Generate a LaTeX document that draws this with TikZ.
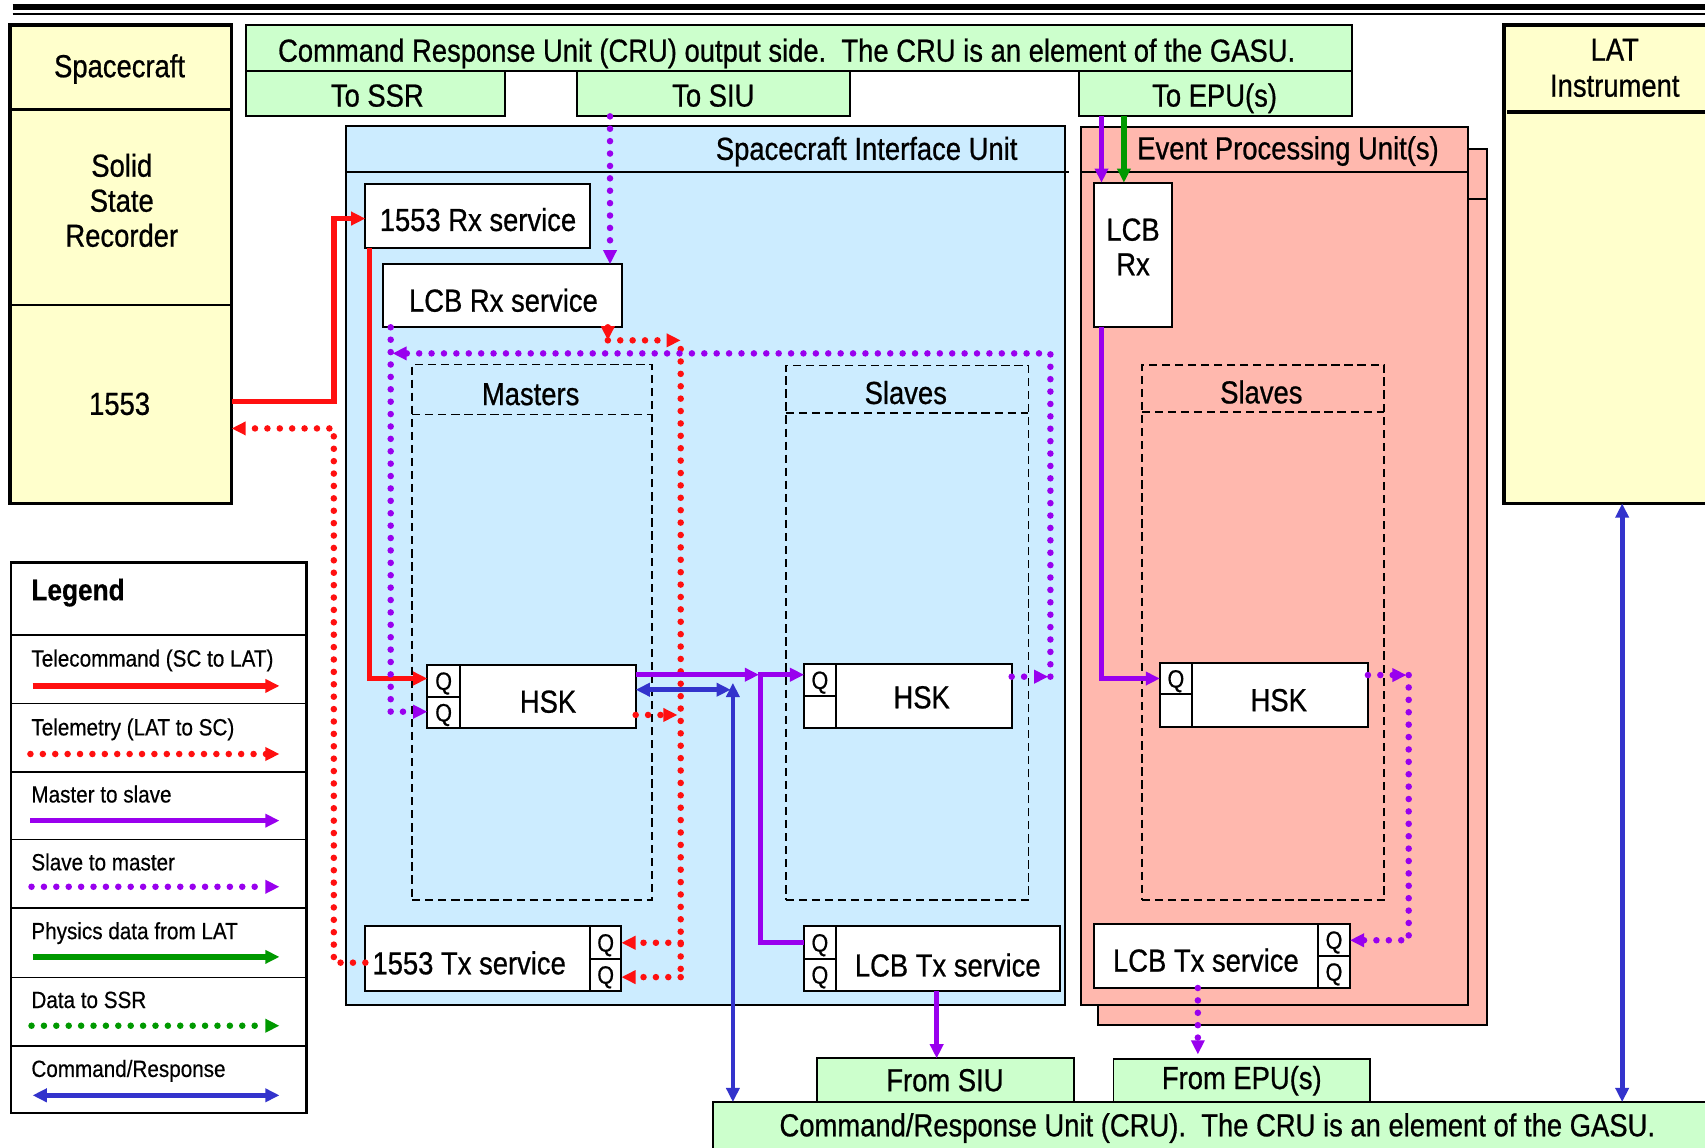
\documentclass[tikz,border=0pt]{standalone}
\usepackage{fontspec}
\setmainfont[FakeStretch=0.86,FakeBold=0.7]{Liberation Sans}
\newfontfamily\lgfont[FakeStretch=0.88,FakeBold=0.5]{Liberation Sans}
\usetikzlibrary{arrows.meta,fit}
\definecolor{yel}{HTML}{FFFFCC}
\definecolor{grn}{HTML}{CCFFCC}
\definecolor{siublue}{HTML}{CCECFF}
\definecolor{epupink}{HTML}{FFB8AE}
\definecolor{tcred}{HTML}{FF1010}
\definecolor{purp}{HTML}{9900EE}
\definecolor{grnline}{HTML}{009900}
\definecolor{crblue}{HTML}{3333CC}
\newcommand\fmain{\fontsize{14.65pt}{16pt}\selectfont}
\newcommand\fq{\fontsize{11.5pt}{12pt}\selectfont}
\newcommand\flg{\lgfont\fontsize{10.8pt}{12pt}\selectfont}
\newcommand\flgh{\lgfont\bfseries\fontsize{13.7pt}{15pt}\selectfont}
\newcommand\bx[3]{\node[#1,fit={#3},inner sep=0pt,outer sep=0pt] (#2) {};}
\tikzset{
  wbox/.style={draw=black, line width=0.9pt, fill=white},
  ybox/.style={draw=black, line width=1.6pt, fill=yel},
  gbox/.style={draw=black, line width=0.9pt, fill=grn},
  dbox/.style={draw=black, line width=0.7pt, dash pattern=on 3.8pt off 2.2pt},
  ghost/.style={},
  lbl/.style={anchor=base, inner sep=0pt, font=\fmain},
  qlbl/.style={anchor=base, inner sep=0pt, font=\fq},
  lglbl/.style={anchor=base west, inner sep=0pt, font=\flg},
  arr/.style={-{Triangle[length=6.5pt,width=6pt]}},
  arrboth/.style={{Triangle[length=6.5pt,width=6pt]}-{Triangle[length=6.5pt,width=6pt]}},
  solidline/.style={line width=2.5pt},
  dotline/.style={line width=3pt, dash pattern=on 0pt off 5.7pt, line cap=round},
  tc/.style={solidline, draw=tcred},
  tm/.style={dotline, draw=tcred},
  ms/.style={solidline, draw=purp},
  smd/.style={dotline, draw=purp},
  phys/.style={solidline, draw=grnline},
  ssr/.style={dotline, draw=grnline},
  cr/.style={line width=2.2pt, draw=crblue},
}
\begin{document}
\begin{tikzpicture}[x=0.5pt,y=-0.5pt]
\useasboundingbox (0,0) rectangle (1568,1055);
\clip (0,0) rectangle (1568,1055);
\fill[white] (0,0) rectangle (1568,1055);

% top rules
\draw[line width=2.75pt] (11.6,6.5) -- (1600,6.5);
\draw[line width=1.2pt] (11.6,13) -- (1600,13);

% Spacecraft
\bx{ybox}{sc}{(9,23)(213,463)}
\draw[line width=1.6pt] (sc.west |- 0,100.5) -- (sc.east |- 0,100.5);
\draw[line width=0.9pt] (sc.west |- 0,280.5) -- (sc.east |- 0,280.5);
\bx{ghost}{sc1553}{(9,280.5)(213,463)}
\node[lbl] (tsc) at (110,71) {Spacecraft};
\node[lbl] (ts1) at (112,162.5) {Solid};
\node[lbl] (ts2) at (112,194.7) {State};
\node[lbl] (ts3) at (112,226.9) {Recorder};
\node[lbl] (t1553) at (110,381.5) {1553};

% LAT
\bx{ybox}{lat}{(1383,23)(1620,463)}
\draw[line width=1.6pt] (1386,103) -- (1620,103);
\node[lbl] (tlat1) at (1485,55.8) {LAT};
\node[lbl] (tlat2) at (1485,88.9) {Instrument};

% CRU top
\bx{gbox}{crut}{(226,23)(1243,65)}
\bx{gbox}{tossr}{(226,65)(464,107)}
\bx{gbox}{tosiu}{(531,65)(782,107)}
\bx{gbox}{toepu}{(992.5,65)(1243,107)}
\node[lbl] (tcrut) at (723.5,56.7) {Command Response Unit (CRU) output side.\ \ The CRU is an element of the GASU.};
\node[lbl] (ttossr) at (347,98) {To SSR};
\node[lbl] (ttosiu) at (656,98) {To SIU};
\node[lbl] (ttoepu) at (1117,98) {To EPU(s)};

% CRU bottom
\bx{gbox}{fromsiu}{(751,973.3)(988,1013.5)}
\bx{gbox}{fromepu}{(1024,973.7)(1260,1013.5)}
\bx{gbox}{crub}{(656,1013.5)(1620,1080)}
\node[lbl] (tfromsiu) at (869,1003.5) {From SIU};
\node[lbl] (tfromepu) at (1142,1001.5) {From EPU(s)};
\node[lbl] (tcrub) at (1119.5,1045) {Command/Response Unit (CRU).\ \ The CRU is an element of the GASU.};

% SIU container
\bx{draw=black,line width=0.9pt,fill=siublue}{siu}{(318,116)(979,924)}
\draw[line width=0.9pt] (siu.west |- 0,158) -- (983,158);
\node[lbl] (tsiu) at (797,147) {Spacecraft Interface Unit};

% EPU containers
\bx{draw=black,line width=0.9pt,fill=epupink}{epuback}{(1010,137)(1367.6,942.6)}
\draw[line width=0.9pt] (1350,183) -- (epuback.east |- 0,183);
\bx{draw=black,line width=0.9pt,fill=epupink}{epu}{(994.5,117)(1349.7,924)}
\draw[line width=0.9pt] (epu.west |- 0,158) -- (epu.east |- 0,158);
\node[lbl] (tepu) at (1184.5,146.5) {Event Processing Unit(s)};

% dashed groups
\bx{dbox}{mast}{(379,335)(599.6,827.7)}
\draw[dbox] (mast.west |- 0,381) -- (mast.east |- 0,381);
\node[lbl] (tmast) at (488,372.5) {Masters};
\bx{dbox}{slv}{(722.6,336)(945.7,827.7)}
\draw[dbox] (slv.west |- 0,380) -- (slv.east |- 0,380);
\node[lbl] (tslv) at (833,371.5) {Slaves};
\bx{dbox}{slvE}{(1050,335.7)(1273,827.7)}
\draw[dbox] (slvE.west |- 0,379) -- (slvE.east |- 0,379);
\node[lbl] (tslvE) at (1160,371) {Slaves};

% service boxes
\bx{wbox}{rx1553}{(336,169)(543,228)}
\node[lbl] (trx1553) at (439.6,212.4) {1553 Rx service};
\bx{wbox}{lcbrx}{(352.5,243)(572,301)}
\node[lbl] (tlcbrx) at (463,286.6) {LCB Rx service};
\bx{wbox}{lcbrxE}{(1006,168)(1078,300.4)}
\node[lbl] (tlcbE1) at (1042,221.3) {LCB};
\node[lbl] (tlcbE2) at (1042,253.2) {Rx};

\bx{wbox}{hskm}{(393,611.6)(584.6,669.6)}
\bx{wbox}{qm1}{(393,611.6)(423,641)}
\bx{wbox}{qm2}{(393,641)(423,669.6)}
\node[lbl] (thskm) at (504,655.4) {HSK};
\node[qlbl] (tqm1) at (408,634.4) {Q};
\node[qlbl] (tqm2) at (408,663.4) {Q};

\bx{wbox}{hsks}{(739.5,611)(930.4,669.4)}
\bx{wbox}{qs1}{(739.5,611)(768.6,640)}
\bx{wbox}{qs2}{(739.5,640)(768.6,669.4)}
\node[lbl] (thsks) at (847.6,651.4) {HSK};
\node[qlbl] (tqs1) at (754,633.6) {Q};

\bx{wbox}{hske}{(1066.7,609.8)(1258,668.3)}
\bx{wbox}{qe1}{(1066.7,609.8)(1096,638.5)}
\bx{wbox}{qe2}{(1066.7,638.5)(1096,668.3)}
\node[lbl] (thske) at (1176,654) {HSK};
\node[qlbl] (tqe1) at (1081.4,632.3) {Q};

\bx{wbox}{tx1553}{(336,852)(571.5,911)}
\bx{wbox}{qt1}{(542.4,852)(571.5,882)}
\bx{wbox}{qt2}{(542.4,882)(571.5,911)}
\node[lbl] (ttx1553) at (431.5,896) {1553 Tx service};
\node[qlbl] (tqt1) at (557,875.1) {Q};
\node[qlbl] (tqt2) at (557,904.6) {Q};

\bx{wbox}{lcbtx}{(739.5,852)(975,911)}
\bx{wbox}{ql1}{(739.5,852)(768.6,882)}
\bx{wbox}{ql2}{(739.5,882)(768.6,911)}
\node[lbl] (tlcbtx) at (871.6,898) {LCB Tx service};
\node[qlbl] (tql1) at (754,875.1) {Q};
\node[qlbl] (tql2) at (754,904.6) {Q};

\bx{wbox}{lcbtxE}{(1006,850)(1241.5,908.6)}
\bx{wbox}{qx1}{(1212,850)(1241.5,879)}
\bx{wbox}{qx2}{(1212,879)(1241.5,908.6)}
\node[lbl] (tlcbtxE) at (1109,893.5) {LCB Tx service};
\node[qlbl] (tqx1) at (1226.8,872.6) {Q};
\node[qlbl] (tqx2) at (1226.8,901.9) {Q};

% bus coordinates
\coordinate (rbA) at (307,369);
\coordinate (rbB) at (307,201);
\coordinate (rbC) at (340,624);
\coordinate (rdA) at (307,885.3);
\coordinate (rdB) at (307,394);
\coordinate (rdC) at (559,313);
\coordinate (rdD) at (626,313);
\coordinate (rdTop) at (626,321);
\coordinate (rdBot) at (626,898.6);
\coordinate (rdMid) at (626,867);
\coordinate (rdH) at (623,657.5);
\coordinate (pdL) at (359.3,654.5);
\coordinate (pdR) at (966,622.3);
\coordinate (pdRt) at (966,325);
\coordinate (pdLt) at (361,325);
\coordinate (pdE) at (1295.5,620.8);
\coordinate (pdEb) at (1295.5,864.7);
\coordinate (psA) at (698,620.5);
\coordinate (psB) at (699.6,620.5);
\coordinate (psC) at (699.6,867);
\coordinate (psE) at (1013,624);
\coordinate (cbH) at (672,634.3);
\coordinate (cbV) at (674,628);

% telecommand (red solid)
\draw[tc,arr] (sc1553.east |- rbA) -- (rbA) -- (rbB) -- (rx1553.west |- rbB);
\draw[tc,arr] (rx1553.south -| rbC) -- (rbC) -- (qm1.west |- rbC);
% telemetry (red dotted)
\draw[tm,arr] (tx1553.west |- rdA) -- (rdA) -- (rdB) -- (sc1553.east |- rdB);
\draw[tm,arr] (lcbrx.south -| rdC) -- (rdC);
\draw[tm,arr] (rdC) -- (rdD);
\draw[tm] (rdTop) -- (rdBot);
\draw[tm,arr] (rdBot) -- (qt2.east |- rdBot);
\draw[tm,arr] (rdMid) -- (qt1.east |- rdMid);
\draw[tm,arr] (hskm.east |- rdH) -- (rdH);
% slave to master (purple dotted)
\draw[smd,arr] (tosiu.south -| 561,0) -- (lcbrx.north -| 561,0);
\draw[smd,arr] (lcbrx.south -| pdL) -- (pdL) -- (qm2.west |- pdL);
\draw[smd,arr] (hsks.east |- pdR) -- ([xshift=-1pt]pdR);
\draw[smd,arr] (pdR) -- (pdRt) -- (pdLt);
\draw[smd,arr] (hske.east |- pdE) -- ([xshift=-1pt]pdE);
\draw[smd,arr] (pdE) -- (pdEb) -- (qx1.east |- pdEb);
\draw[smd,arr,shorten >=2pt] (lcbtxE.south -| 1101.6,0) -- (fromepu.north -| 1101.6,0);
% master to slave (purple solid)
\draw[ms,arr] (hskm.east |- psA) -- (psA);
\draw[ms,arr] (psB) -- (qs1.west |- psB);
\draw[ms] ([yshift=1.2pt]psB) -- (psC) -- (ql1.west |- psC);
\draw[ms,arr] (lcbtx.south -| 861.4,0) -- (fromsiu.north -| 861.4,0);
\draw[ms,arr] (toepu.south -| 1013,0) -- (lcbrxE.north -| 1013,0);
\draw[phys,arr] (toepu.south -| 1033.6,0) -- (lcbrxE.north -| 1033.6,0);
\draw[ms,arr] (lcbrxE.south -| psE) -- (psE) -- (qe1.west |- psE);
% command/response (blue)
\draw[cr,arrboth] (hskm.east |- cbH) -- (cbH);
\draw[cr,arrboth] (cbV) -- (crub.north -| cbV);
\draw[cr,arrboth] (lat.south -| 1491.8,0) -- (crub.north -| 1491.8,0);

% Legend
\bx{draw=black,line width=1.2pt,fill=white}{leg}{(10,517.4)(282,1023.7)}
\foreach \yy in {584,647,710,772,834.8,899,961.6}
  \draw[line width=0.8pt] (leg.west |- 0,\yy) -- (leg.east |- 0,\yy);
\node[anchor=base west, inner sep=0pt, font=\flgh] (tleg) at (28.5,552) {Legend};
\node[lglbl] (tl1) at (28.5,613) {Telecommand (SC to LAT)};
\node[lglbl] (tl2) at (28.5,676.3) {Telemetry (LAT to SC)};
\node[lglbl] (tl3) at (28.5,738) {Master to slave};
\node[lglbl] (tl4) at (28.5,800.4) {Slave to master};
\node[lglbl] (tl5) at (28.5,863.7) {Physics data from LAT};
\node[lglbl] (tl6) at (28.5,927) {Data to SSR};
\node[lglbl] (tl7) at (28.5,990.4) {Command/Response};
\coordinate (la1) at (30,630.8);   \coordinate (lb1) at (257,630.8);
\coordinate (la2) at (28,693.4);   \coordinate (lb2) at (257,693.4);
\coordinate (la3) at (28,754.7);   \coordinate (lb3) at (257,754.7);
\coordinate (la4) at (29,815.5);   \coordinate (lb4) at (257,815.5);
\coordinate (la5) at (30,880);     \coordinate (lb5) at (257,880);
\coordinate (la6) at (29,943.3);   \coordinate (lb6) at (257,943.3);
\coordinate (la7) at (30,1007.3);  \coordinate (lb7) at (257,1007.3);
\draw[tc,arr] (la1) -- (lb1);
\draw[tm,arr] (la2) -- (lb2);
\draw[ms,arr] (la3) -- (lb3);
\draw[smd,arr] (la4) -- (lb4);
\draw[phys,arr] (la5) -- (lb5);
\draw[ssr,arr] (la6) -- (lb6);
\draw[cr,arrboth] (la7) -- (lb7);
\end{tikzpicture}
\end{document}
